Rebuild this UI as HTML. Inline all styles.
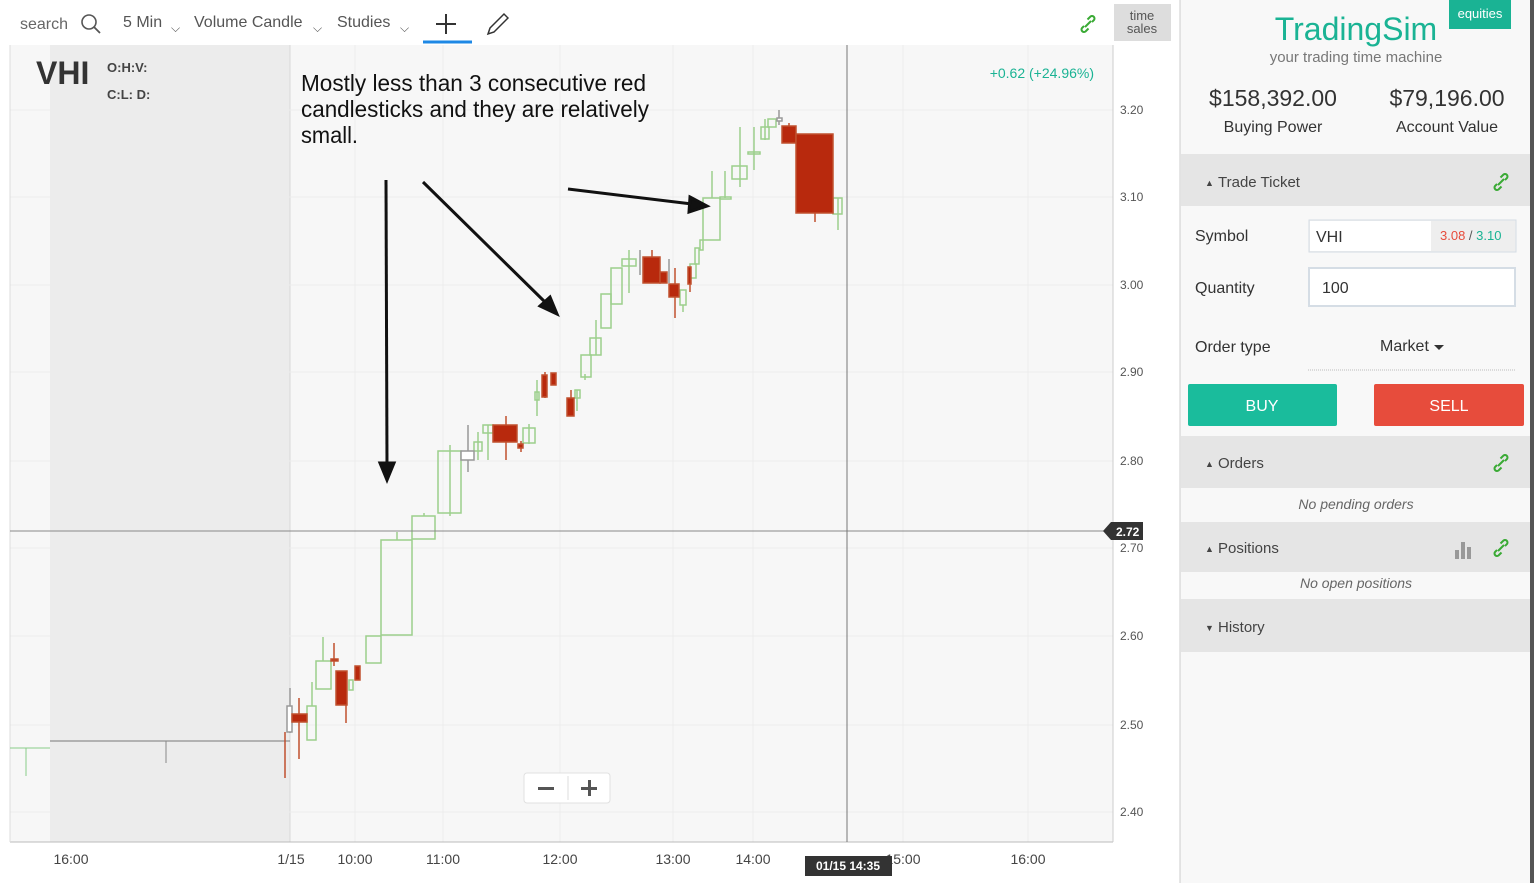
<!DOCTYPE html>
<html><head><meta charset="utf-8"><style>
body{margin:0;width:1534px;height:883px;overflow:hidden;background:#fff;font-family:"Liberation Sans",sans-serif;position:relative}
.a{position:absolute}
</style></head><body>
<svg class="a" style="left:0;top:0" width="1534" height="883" font-family="Liberation Sans, sans-serif">
<defs>
<g id="lk" fill="none" stroke="#3aaa35" stroke-width="2"><path d="M-4 2 l-2 2 a2.5 2.5 0 0 0 3.5 3.5 l3 -3"/><path d="M4 -2 l2 -2 a2.5 2.5 0 0 0 -3.5 -3.5 l-3 3"/><line x1="-3" y1="3" x2="3" y2="-3"/></g>
</defs>
<rect x="0" y="0" width="1180" height="883" fill="#fff"/>
<rect x="10" y="45" width="1103" height="797" fill="#f7f7f7"/>
<rect x="50" y="45" width="240" height="797" fill="#ececec"/>
<line x1="290" y1="45" x2="290" y2="842" stroke="#d8d8d8"/>
<g stroke="#ececec">
<line x1="10" y1="110" x2="1113" y2="110"/><line x1="10" y1="197" x2="1113" y2="197"/><line x1="10" y1="285" x2="1113" y2="285"/><line x1="10" y1="372" x2="1113" y2="372"/><line x1="10" y1="461" x2="1113" y2="461"/><line x1="10" y1="548" x2="1113" y2="548"/><line x1="10" y1="636" x2="1113" y2="636"/><line x1="10" y1="725" x2="1113" y2="725"/><line x1="10" y1="812" x2="1113" y2="812"/>
<line x1="355" y1="45" x2="355" y2="842"/><line x1="443" y1="45" x2="443" y2="842"/><line x1="560" y1="45" x2="560" y2="842"/><line x1="673" y1="45" x2="673" y2="842"/><line x1="753" y1="45" x2="753" y2="842"/><line x1="903" y1="45" x2="903" y2="842"/><line x1="1028" y1="45" x2="1028" y2="842"/>
</g>
<line x1="10" y1="842" x2="1113" y2="842" stroke="#bbb"/>
<line x1="1113" y1="45" x2="1113" y2="842" stroke="#ccc"/>
<line x1="10" y1="45" x2="10" y2="842" stroke="#ddd"/>
<g font-size="12" fill="#555">
<text x="1120" y="114">3.20</text><text x="1120" y="201">3.10</text><text x="1120" y="289">3.00</text><text x="1120" y="376">2.90</text><text x="1120" y="465">2.80</text><text x="1120" y="552">2.70</text><text x="1120" y="640">2.60</text><text x="1120" y="729">2.50</text><text x="1120" y="816">2.40</text>
</g>
<g font-size="14" fill="#444" text-anchor="middle">
<text x="71" y="864">16:00</text><text x="291" y="864">1/15</text><text x="355" y="864">10:00</text><text x="443" y="864">11:00</text><text x="560" y="864">12:00</text><text x="673" y="864">13:00</text><text x="753" y="864">14:00</text><text x="903" y="864">15:00</text><text x="1028" y="864">16:00</text>
</g>
<line x1="50" y1="741" x2="290" y2="741" stroke="#777"/>
<line x1="10" y1="748" x2="50" y2="748" stroke="#8c8"/>
<line x1="26" y1="748" x2="26" y2="776" stroke="#8c8"/>
<line x1="166" y1="741" x2="166" y2="763" stroke="#888"/>
<g stroke-width="1.5">
<g fill="none" stroke="#9ccf8c">
<line x1="312" y1="682" x2="312" y2="706"/><rect x="307" y="706" width="9" height="34"/>
<line x1="323" y1="637" x2="323" y2="661"/><rect x="316" y="661" width="15" height="28"/>
<rect x="349" y="680" width="4" height="10"/>
<rect x="366" y="636" width="15" height="27"/>
<line x1="397" y1="532" x2="397" y2="540"/><rect x="381" y="540" width="31" height="95"/>
<line x1="424" y1="513" x2="424" y2="516"/><rect x="412" y="516" width="23" height="23"/>
<line x1="450" y1="445" x2="450" y2="516"/><rect x="438" y="451" width="23" height="62"/>
<line x1="478" y1="432" x2="478" y2="460"/><rect x="474" y="442" width="8" height="9"/>
<line x1="488" y1="425" x2="488" y2="460"/><rect x="483" y="425" width="10" height="8"/>
<line x1="529" y1="424" x2="529" y2="444"/><rect x="523" y="428" width="12" height="15"/>
<line x1="537" y1="380" x2="537" y2="416"/><rect x="535" y="392" width="4" height="8"/>
<line x1="577" y1="390" x2="577" y2="411"/><rect x="575" y="390" width="5" height="8"/>
<line x1="585" y1="374" x2="585" y2="380"/><rect x="581" y="355" width="10" height="22"/>
<line x1="596" y1="320" x2="596" y2="355"/><rect x="590" y="338" width="11" height="17"/>
<rect x="601" y="294" width="10" height="34"/>
<rect x="611" y="268" width="11" height="36"/>
<line x1="629" y1="250" x2="629" y2="293"/><rect x="622" y="259" width="14" height="7"/>
<rect x="680" y="290" width="6" height="15"/><line x1="683" y1="305" x2="683" y2="312"/>
<rect x="690" y="264" width="6" height="14"/>
<rect x="695" y="248" width="4" height="16"/>
<rect x="700" y="240" width="3" height="10"/>
<line x1="712" y1="171" x2="712" y2="198"/><rect x="703" y="198" width="17" height="42"/>
<line x1="725" y1="171" x2="725" y2="198"/><rect x="720" y="197" width="11" height="2"/>
<line x1="740" y1="127" x2="740" y2="187"/><rect x="732" y="166" width="15" height="13"/>
<line x1="754" y1="127" x2="754" y2="170"/><rect x="748" y="152" width="12" height="2"/>
<line x1="765" y1="119" x2="765" y2="140"/><rect x="761" y="127" width="8" height="12"/>
<rect x="768" y="119" width="8" height="8"/>
<line x1="838" y1="198" x2="838" y2="230"/><rect x="833" y="198" width="9" height="16"/>
</g>
<g fill="#fff" stroke="#999">
<line x1="290" y1="688" x2="290" y2="733"/><rect x="287" y="706" width="5" height="26"/>
<line x1="468" y1="425" x2="468" y2="472"/><rect x="461" y="451" width="13" height="9"/>
<line x1="640" y1="250" x2="640" y2="275"/>
<line x1="669" y1="259" x2="669" y2="283"/>
<line x1="779" y1="110" x2="779" y2="125"/><rect x="777" y="118" width="5" height="3"/>
</g>
<g fill="#b8290d" stroke="#c0502e">
<line x1="285" y1="732" x2="285" y2="778"/>
<line x1="299" y1="698" x2="299" y2="759"/><rect x="292" y="714" width="15" height="8"/>
<line x1="334" y1="643" x2="334" y2="666"/><rect x="331" y="659" width="7" height="2"/>
<line x1="346" y1="705" x2="346" y2="723"/><rect x="336" y="671" width="11" height="34"/>
<rect x="355" y="666" width="5" height="14"/>
<line x1="506" y1="416" x2="506" y2="460"/><rect x="493" y="425" width="24" height="17"/>
<line x1="521" y1="441" x2="521" y2="452"/><rect x="518" y="444" width="5" height="4"/>
<line x1="545" y1="372" x2="545" y2="398"/><rect x="542" y="375" width="5" height="22"/>
<rect x="551" y="373" width="5" height="12"/>
<line x1="571" y1="390" x2="571" y2="416"/><rect x="567" y="398" width="7" height="18"/>
<line x1="652" y1="250" x2="652" y2="283"/><rect x="643" y="257" width="17" height="26"/>
<rect x="660" y="272" width="7" height="11"/>
<line x1="675" y1="268" x2="675" y2="318"/><rect x="669" y="284" width="10" height="13"/>
<line x1="690" y1="268" x2="690" y2="292"/><rect x="688" y="267" width="3" height="17"/>
<line x1="789" y1="123" x2="789" y2="126"/><rect x="782" y="126" width="14" height="17"/>
<line x1="815" y1="213" x2="815" y2="222"/><rect x="796" y="134" width="37" height="79"/>
</g>
</g>
<line x1="10" y1="531" x2="1113" y2="531" stroke="#888"/>
<line x1="847" y1="45" x2="847" y2="842" stroke="#777"/>
<path d="M1103 531 L1111 522 H1143 V540 H1111 Z" fill="#333"/>
<text x="1116" y="536" font-size="12" fill="#fff" font-weight="bold">2.72</text>
<rect x="805" y="856" width="87" height="20" fill="#333"/>
<text x="848" y="870" font-size="12" fill="#fff" text-anchor="middle" font-weight="bold">01/15 14:35</text>
<g stroke="#111" stroke-width="3" fill="#111">
<line x1="386" y1="180" x2="387" y2="465"/><path d="M380 463 L387 480 L394 463Z"/>
<line x1="423" y1="182" x2="546" y2="303"/><path d="M540 306 L557 314 L550 297Z"/>
<line x1="568" y1="189" x2="692" y2="204"/><path d="M690 197 L707 206 L689 212Z"/>
</g>
<g font-size="23" fill="#111">
<text x="301" y="91" textLength="345" lengthAdjust="spacingAndGlyphs">Mostly less than 3 consecutive red</text>
<text x="301" y="117" textLength="348" lengthAdjust="spacingAndGlyphs">candlesticks and they are relatively</text>
<text x="301" y="143" textLength="57" lengthAdjust="spacingAndGlyphs">small.</text>
</g>
<text x="36" y="84" font-size="32" font-weight="bold" fill="#333">VHI</text>
<text x="107" y="72" font-size="13" font-weight="bold" fill="#444">O:H:V:</text>
<text x="107" y="99" font-size="13" font-weight="bold" fill="#444">C:L: D:</text>
<text x="1094" y="78" font-size="14" fill="#1ab394" text-anchor="end">+0.62 (+24.96%)</text>
<rect x="524" y="773" width="86" height="30" rx="3" fill="#fff" stroke="#e0e0e0"/>
<line x1="568" y1="776" x2="568" y2="800" stroke="#ddd"/>
<rect x="538" y="787" width="16" height="3" fill="#555"/>
<rect x="581" y="787" width="16" height="3" fill="#555"/><rect x="588" y="780" width="3" height="16" fill="#555"/>
<rect x="12" y="5" width="108" height="36" fill="#fff"/>
<text x="20" y="29" font-size="16" fill="#666">search</text>
<circle cx="89" cy="22" r="7" fill="none" stroke="#555" stroke-width="1.6"/><line x1="94" y1="27" x2="100" y2="33" stroke="#555" stroke-width="1.8"/>
<g font-size="16" fill="#555"><text x="123" y="27">5 Min</text><text x="194" y="27">Volume Candle</text><text x="337" y="27">Studies</text>
<text x="171" y="32" font-size="12">⌵</text><text x="313" y="32" font-size="12">⌵</text><text x="400" y="32" font-size="12">⌵</text></g>
<line x1="423" y1="42" x2="472" y2="42" stroke="#1e88e5" stroke-width="3"/>
<line x1="446" y1="14" x2="446" y2="34" stroke="#333" stroke-width="2"/><line x1="436" y1="24" x2="456" y2="24" stroke="#333" stroke-width="2"/>
<path d="M488 34 L490 28 L504 14 L508 18 L494 32 Z" fill="none" stroke="#333" stroke-width="1.5"/>
<use href="#lk" x="1088" y="24"/>
<rect x="1114" y="4" width="57" height="37" fill="#ddd"/>
<text x="1142" y="20" font-size="13" fill="#555" text-anchor="middle">time</text>
<text x="1142" y="33" font-size="13" fill="#555" text-anchor="middle">sales</text>
<rect x="1180" y="0" width="350" height="883" fill="#f8f8f8"/>
<rect x="1530" y="0" width="4" height="883" fill="#555"/>
<rect x="1449" y="0" width="62" height="29" fill="#1ab394"/>
<text x="1480" y="18" font-size="13" fill="#fff" text-anchor="middle">equities</text>
<text x="1356" y="40" font-size="32" fill="#1ab394" text-anchor="middle">TradingSim</text>
<text x="1356" y="62" font-size="15" fill="#777" text-anchor="middle">your trading time machine</text>
<text x="1273" y="106" font-size="23" fill="#333" text-anchor="middle">$158,392.00</text>
<text x="1447" y="106" font-size="23" fill="#333" text-anchor="middle">$79,196.00</text>
<text x="1273" y="132" font-size="16" fill="#333" text-anchor="middle">Buying Power</text>
<text x="1447" y="132" font-size="16" fill="#333" text-anchor="middle">Account Value</text>
<rect x="1181" y="154" width="349" height="52" fill="#e5e5e5"/>
<text x="1205" y="186" font-size="9" fill="#444">▲</text><text x="1218" y="187" font-size="15" fill="#444">Trade Ticket</text>
<use href="#lk" x="1501" y="182"/>
<text x="1195" y="241" font-size="16" fill="#333">Symbol</text>
<rect x="1309" y="220" width="207" height="32" fill="#eee" stroke="#d5dde5"/>
<rect x="1310" y="221" width="121" height="30" fill="#fff"/>
<text x="1316" y="242" font-size="16" fill="#333">VHI</text>
<text x="1440" y="240" font-size="13" fill="#e74c3c">3.08 <tspan fill="#555">/</tspan> <tspan fill="#1ab394">3.10</tspan></text>
<text x="1195" y="293" font-size="16" fill="#333">Quantity</text>
<rect x="1309" y="268" width="206" height="38" fill="#fff" stroke="#d5dde5" stroke-width="2"/>
<text x="1322" y="293" font-size="16" fill="#333">100</text>
<text x="1195" y="352" font-size="16" fill="#333">Order type</text>
<text x="1380" y="351" font-size="16" fill="#333">Market</text><path d="M1434 345 h10 l-5 5z" fill="#333"/>
<line x1="1308" y1="370" x2="1516" y2="370" stroke="#bbb" stroke-dasharray="1,1"/>
<rect x="1188" y="384" width="149" height="42" rx="2" fill="#1abc9c"/>
<text x="1262" y="411" font-size="16" fill="#fff" text-anchor="middle">BUY</text>
<rect x="1374" y="384" width="150" height="42" rx="2" fill="#e74c3c"/>
<text x="1449" y="411" font-size="16" fill="#fff" text-anchor="middle">SELL</text>
<rect x="1181" y="436" width="349" height="52" fill="#e5e5e5"/>
<text x="1205" y="467" font-size="9" fill="#444">▲</text><text x="1218" y="468" font-size="15" fill="#444">Orders</text>
<use href="#lk" x="1501" y="463"/>
<text x="1356" y="509" font-size="14" fill="#666" font-style="italic" text-anchor="middle">No pending orders</text>
<rect x="1181" y="522" width="349" height="50" fill="#e5e5e5"/>
<text x="1205" y="552" font-size="9" fill="#444">▲</text><text x="1218" y="553" font-size="15" fill="#444">Positions</text>
<rect x="1455" y="550" width="4" height="9" fill="#999"/><rect x="1461" y="542" width="4" height="17" fill="#999"/><rect x="1467" y="547" width="4" height="12" fill="#999"/>
<use href="#lk" x="1501" y="548"/>
<text x="1356" y="588" font-size="14" fill="#666" font-style="italic" text-anchor="middle">No open positions</text>
<rect x="1181" y="599" width="349" height="53" fill="#e5e5e5"/>
<text x="1205" y="631" font-size="9" fill="#444">▼</text><text x="1218" y="632" font-size="15" fill="#444">History</text>
<rect x="1173" y="0" width="7" height="883" fill="#fff"/>
<line x1="1180" y1="0" x2="1180" y2="883" stroke="#ccc"/>
</svg>
</body></html>
